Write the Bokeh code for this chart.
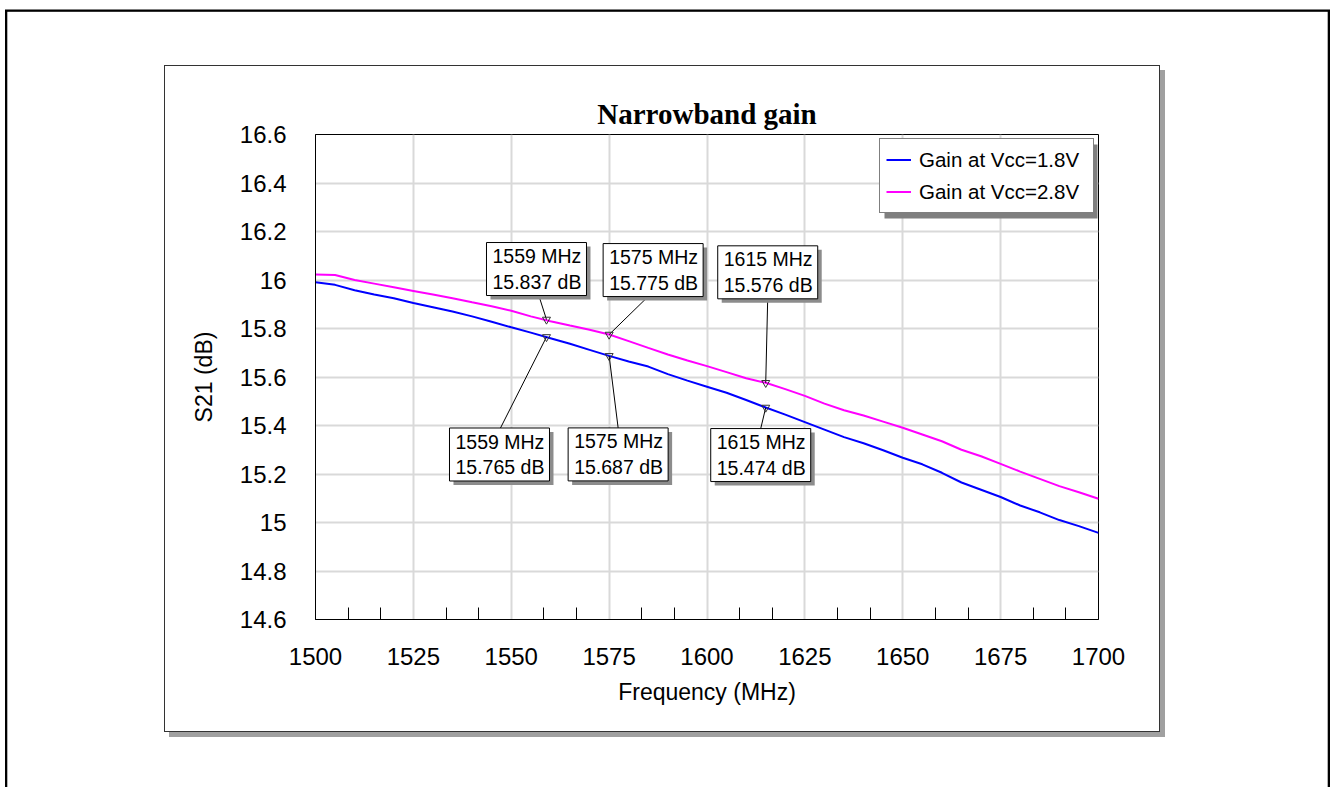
import numpy as np
from bokeh.plotting import figure
from bokeh.models import (Legend, LegendItem, FixedTicker, Range1d)
from bokeh.embed import file_html
from bokeh.resources import INLINE
from bokeh.core.properties import value

# ---------------- data ----------------
freq = list(range(1500, 1701, 5))
gain_18 = [15.991, 15.980, 15.958, 15.940, 15.925, 15.905, 15.888, 15.870, 15.850, 15.828,
           15.805, 15.783, 15.760, 15.737, 15.712, 15.687, 15.664, 15.643, 15.612, 15.585,
           15.560, 15.535, 15.505, 15.474, 15.445, 15.414, 15.383, 15.352, 15.327, 15.298,
           15.267, 15.240, 15.205, 15.165, 15.135, 15.105, 15.070, 15.042, 15.010, 14.985,
           14.957]
gain_28 = [16.023, 16.021, 16.000, 15.985, 15.970, 15.955, 15.940, 15.925, 15.908, 15.892,
           15.873, 15.850, 15.830, 15.812, 15.795, 15.775, 15.748, 15.720, 15.693, 15.668,
           15.645, 15.620, 15.595, 15.576, 15.550, 15.522, 15.490, 15.463, 15.441, 15.416,
           15.391, 15.363, 15.335, 15.300, 15.273, 15.242, 15.210, 15.180, 15.150, 15.125,
           15.098]
marker_freq = [1559, 1575, 1615]
marker_18 = [15.765, 15.687, 15.474]
marker_28 = [15.837, 15.775, 15.576]
series_names = ["Gain at Vcc=1.8V", "Gain at Vcc=2.8V"]
x_ticks = [1500, 1525, 1550, 1575, 1600, 1625, 1650, 1675, 1700]
y_ticks = [14.6, 14.8, 15.0, 15.2, 15.4, 15.6, 15.8, 16.0, 16.2, 16.4, 16.6]
y_tick_labels = ["14.6", "14.8", "15", "15.2", "15.4", "15.6", "15.8", "16", "16.2", "16.4", "16.6"]

# ---------------- layout ----------------
CW, CH = 994, 665            # chart box (canvas) size
FL, FT, FW, FH = 150, 68, 783, 485
X0, X1, Y0, Y1 = 1500, 1700, 14.6, 16.6
sx = FW / (X1 - X0)
sy = FH / (Y1 - Y0)

def dxd(px):
    return px / sx

def dyd(py):
    return -py / sy

SANS = "Liberation Sans"

box_css = ("0 0 0 1px #333333, "
           "5px 5px 0 1px #a0a0a0, "
           "5.5px 109px 0 163.2px #ffffff, "
           "5.5px 109px 0 165.5px #000000")

p = figure(frame_width=FW, frame_height=FH,
           min_border_left=FL, min_border_top=FT,
           min_border_right=CW - FL - FW, min_border_bottom=CH - FT - FH,
           x_range=Range1d(X0, X1), y_range=Range1d(Y0, Y1),
           output_backend="svg", toolbar_location=None,
           background_fill_color="white", border_fill_color="white",
           outline_line_color="black", outline_line_width=1,
           title="Narrowband gain",
           margin=(66, 0, 0, 165),
           styles={"box-shadow": box_css})

p.title.align = "center"
p.title.text_font = "Liberation Serif"
p.title.text_font_style = "bold"
p.title.text_font_size = "29px"
p.title.text_color = "black"
p.title.standoff = 10

# axes
xt = FixedTicker(ticks=x_ticks,
                 minor_ticks=[x_ticks[k] + (x_ticks[k + 1] - x_ticks[k]) * j / 3
                              for k in range(len(x_ticks) - 1) for j in (1, 2)])
yt = FixedTicker(ticks=y_ticks, minor_ticks=[])
p.xaxis.ticker = xt
p.yaxis.ticker = yt
p.xgrid.ticker = xt
p.ygrid.ticker = yt
p.yaxis.major_label_overrides = {t: s for t, s in zip(y_ticks, y_tick_labels)}

for ax in (p.xaxis[0], p.yaxis[0]):
    ax.major_tick_in = 0
    ax.major_tick_out = 0
    ax.axis_line_color = "black"
    ax.axis_line_width = 1
    ax.major_label_text_font = SANS
    ax.major_label_text_font_size = "24px"
    ax.major_label_text_color = "black"
    ax.axis_label_text_font = SANS
    ax.axis_label_text_font_size = "23px"
    ax.axis_label_text_font_style = "normal"
    ax.axis_label_text_color = "black"

p.xaxis.minor_tick_in = 12
p.xaxis.minor_tick_out = 0
p.xaxis.minor_tick_line_color = "black"
p.yaxis.minor_tick_in = 0
p.yaxis.minor_tick_out = 0
p.xaxis.major_label_standoff = 28
p.yaxis.major_label_standoff = 29
p.xaxis.axis_label = "Frequency (MHz)"
p.yaxis.axis_label = "S21 (dB)"
p.xaxis.axis_label_standoff = 11
p.yaxis.axis_label_standoff = 20

p.grid.grid_line_color = "#d9d9d9"
p.grid.grid_line_width = 2

# curves
r18 = p.line(freq, gain_18, line_color="#0000ff", line_width=2)
r28 = p.line(freq, gain_28, line_color="#ff00ff", line_width=2)

# callouts: box offset from marker (px, screen), leader start offset (px)
BW, BH = 100, 53
call_28_box = [(-60, -77), (-6, -91), (-48, -137)]
call_28_lead = [(-8, -25), (40, -39), (2, -85)]
call_18_box = [(-97, 91), (-41, 72), (-55, 21)]
call_18_lead = [(-46, 91), (9, 72), (-5, 21)]

def callouts(vals, boxes, leads):
    L, R, T, B, tx, ty, txt, lx, ly = [], [], [], [], [], [], [], [], []
    for f, v, (bx, by), (ax_, ay_) in zip(marker_freq, vals, boxes, leads):
        l = f + dxd(bx)
        t = v + dyd(by)
        L.append(l); R.append(l + dxd(BW)); T.append(t); B.append(t + dyd(BH))
        tx.append(l + dxd(6)); ty.append(t + dyd(BH / 2))
        txt.append(f"{f} MHz\n{v:.3f} dB")
        lx.append(f + dxd(ax_)); ly.append(v + dyd(ay_))
    p.segment(x0=lx, y0=ly, x1=marker_freq, y1=vals, line_color="black", line_width=1)
    p.scatter(marker_freq, vals, marker="inverted_triangle", size=8,
              line_color="#333333", fill_color=None, line_width=1)
    p.quad(left=[x + dxd(4) for x in L], right=[x + dxd(4) for x in R],
           top=[y + dyd(4) for y in T], bottom=[y + dyd(4) for y in B],
           fill_color="#8c8c8c", line_color=None)
    p.quad(left=L, right=R, top=T, bottom=B, fill_color="white", line_color="black", line_width=1)
    p.text(x=tx, y=ty, text=txt, text_font=value(SANS), text_font_size="19.5px",
           text_align="left", text_baseline="middle", text_line_height=1.18, text_color="black")

callouts(marker_28, call_28_box, call_28_lead)
callouts(marker_18, call_18_box, call_18_lead)

# legend shadow + legend
lg_left, lg_top, lg_w, lg_h = 564, 5, 213, 74
p.quad(left=[X0 + dxd(lg_left + 5)], right=[X0 + dxd(lg_left + 5 + lg_w)],
       top=[Y1 + dyd(lg_top + 5)], bottom=[Y1 + dyd(lg_top + 5 + lg_h)],
       fill_color="#7f7f7f", line_color=None)
legend = Legend(items=[LegendItem(label=series_names[0], renderers=[r18]),
                       LegendItem(label=series_names[1], renderers=[r28])],
                location=(lg_left, FH - lg_top - lg_h),
                border_line_color="black", border_line_width=1,
                background_fill_color="white", background_fill_alpha=1,
                padding=6, spacing=3, margin=0, label_standoff=8,
                glyph_width=25, glyph_height=29, label_height=29, label_width=168,
                label_text_font=SANS, label_text_font_size="20.5px",
                label_text_color="black")
p.add_layout(legend, "center")

open("out.html", "w").write(file_html(p, INLINE))
